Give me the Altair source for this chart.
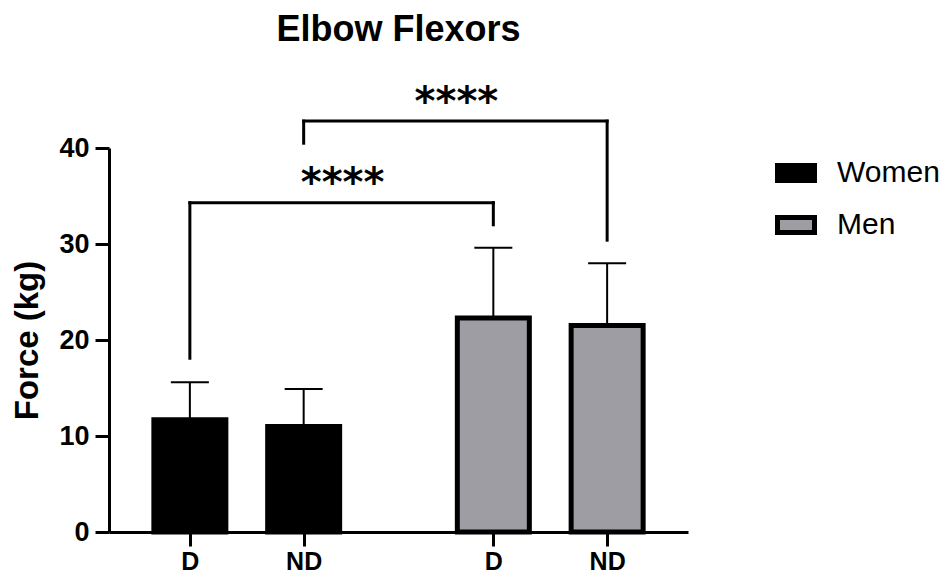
import altair as alt
import pandas as pd

# ---- data ----
groups = ["Women", "Men"]
sides = ["D", "ND"]
women_mean = [11.7, 11.0]
women_sd = [3.9, 3.9]
men_mean = [22.3, 21.5]
men_sd = [7.3, 6.5]

# significance brackets: (from group/side) -> (to group/side)
br_from = [("Women", "D"), ("Women", "ND")]
br_to = [("Men", "D"), ("Men", "ND")]
br_top = [34.3, 42.8]
br_left_end = [18.1, 40.5]
br_right_end = [32.0, 30.4]
br_label = ["****", "****"]
br_label_y = [36.9, 45.3]

# ---- layout helpers (x position on a linear scale: bars 3 units apart, groups 8 apart)
def xpos(g, s):
    return 3 + groups.index(g) * 8 + sides.index(s) * 3

rows = []
for g, means, sds in [("Women", women_mean, women_sd), ("Men", men_mean, men_sd)]:
    for s, m, sd in zip(sides, means, sds):
        rows.append({"group": g, "side": s, "pos": xpos(g, s), "mean": m, "upper": m + sd})
bars = pd.DataFrame(rows)

segs = []
labels = []
for f, t, top, le, re, lab, ly in zip(br_from, br_to, br_top, br_left_end, br_right_end, br_label, br_label_y):
    xl, xr = xpos(*f), xpos(*t)
    segs.append({"x": xl, "x2": xr, "y": top, "y2": top})
    segs.append({"x": xl, "x2": xl, "y": le, "y2": top})
    segs.append({"x": xr, "x2": xr, "y": re, "y2": top})
    labels.append({"x": (xl + xr) / 2, "y": ly, "text": lab})
segs = pd.DataFrame(segs)
labels = pd.DataFrame(labels)

tick_vals = [int(v) for v in bars["pos"]]
label_map = {int(p): s for p, s in zip(bars["pos"], bars["side"])}
label_expr = "{" + ",".join(f"'{k}':'{v}'" for k, v in label_map.items()) + "}[datum.value]"

FONT = "Liberation Sans"

xscale = alt.Scale(domain=[1, 16], nice=False, zero=False)
yscale = alt.Scale(domain=[0, 40], nice=False)

xaxis = alt.Axis(values=tick_vals, labelExpr=label_expr, title=None, grid=False,
                 domainColor="black", domainWidth=3, tickColor="black", tickWidth=3,
                 tickSize=14, labelFont=FONT, labelFontSize=25, labelFontWeight="bold",
                 labelColor="black", labelPadding=3, zindex=1)
yaxis = alt.Axis(values=[0, 10, 20, 30, 40], title="Force (kg)", grid=False,
                 domainColor="black", domainWidth=3, tickColor="black", tickWidth=3,
                 tickSize=14, labelFont=FONT, labelFontSize=27, labelFontWeight="bold",
                 labelColor="black", labelPadding=6, titleFont=FONT, titleFontSize=33,
                 titleFontWeight="bold", titleColor="black", titlePadding=14, zindex=1)

base = alt.Chart(bars)

bar_layer = base.mark_bar(size=72, stroke="black", strokeWidth=5).encode(
    x=alt.X("pos:Q", scale=xscale, axis=xaxis),
    y=alt.Y("mean:Q", scale=yscale, axis=yaxis),
    color=alt.Color("group:N", scale=alt.Scale(domain=groups, range=["black", "#9e9da3"]),
                    sort=groups,
                    legend=alt.Legend(title=None, orient="none", legendX=666, legendY=4,
                                      symbolType="M-1,-0.4H1V0.4H-1Z", symbolSize=1369,
                                      symbolStrokeColor="black", symbolStrokeWidth=5,
                                      labelFont=FONT, labelFontSize=30, labelColor="black",
                                      labelOffset=20, rowPadding=13, symbolOpacity=1)),
)

err_line = base.mark_rule(color="black", strokeWidth=2).encode(
    x="pos:Q", y="mean:Q", y2="upper:Q")
err_cap = base.mark_rule(color="black", strokeWidth=2, xOffset=-19, x2Offset=19).encode(
    x="pos:Q", x2="pos:Q", y="upper:Q")

bracket = alt.Chart(segs).mark_rule(color="black", strokeWidth=3, strokeCap="square").encode(
    x="x:Q", x2="x2:Q", y="y:Q", y2="y2:Q")
stars = alt.Chart(labels).mark_text(font="DejaVu Sans", fontSize=40, fontWeight="bold",
                                    color="black", baseline="middle", dy=6, dx=1).encode(
    x="x:Q", y="y:Q", text="text:N")

chart = alt.layer(err_line, err_cap, bar_layer, bracket, stars).properties(
    width=579, height=384,
    title=alt.TitleParams("Elbow Flexors", font=FONT, fontSize=36, fontWeight="bold",
                          color="black", anchor="middle", offset=34),
    autosize=alt.AutoSizeParams(type="none"),
    padding={"left": 101, "top": 140, "right": 254, "bottom": 43},
).configure_view(stroke=None)

chart.save("out.html", embed_options={"renderer": "svg", "actions": False})
